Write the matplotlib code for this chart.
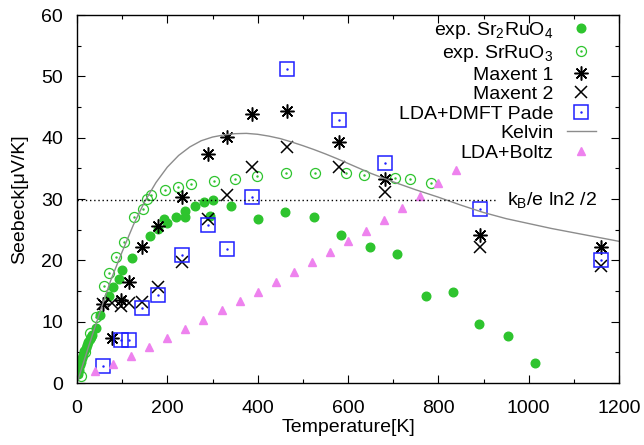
import matplotlib
matplotlib.use("Agg")
import matplotlib.pyplot as plt

plt.rcParams['font.family'] = ['Liberation Sans', 'DejaVu Sans']
plt.rcParams['mathtext.fontset'] = 'custom'
plt.rcParams['mathtext.rm'] = 'Liberation Sans'
plt.rcParams['mathtext.it'] = 'Liberation Sans:italic'
plt.rcParams['font.size'] = 14

# experimental Sr2RuO4
t_sr2 = [2, 4, 6, 8, 10, 13, 16, 19, 22, 25, 28, 31, 34, 41, 52, 70, 80, 92, 100,
         121, 162, 180, 193, 200, 220, 239, 239, 261, 281, 295, 302, 341, 401, 461,
         525, 584, 648, 708, 772, 832, 889, 954, 1013]
s_sr2 = [1.5, 2.2, 2.9, 3.5, 4.1, 4.6, 5.2, 5.7, 6.2, 6.7, 7.1, 7.5, 7.9, 9.0, 11.1,
         14.2, 15.6, 17.0, 18.4, 20.4, 23.9, 25.1, 26.8, 26.1, 27.0, 28.1, 27.1, 28.9,
         29.5, 27.2, 29.8, 28.8, 26.8, 27.9, 27.0, 24.1, 22.1, 21.0, 14.2, 14.9, 9.7,
         7.7, 3.2]

# experimental SrRuO3
t_sr3 = [8, 18, 29, 41, 60, 70, 87, 103, 127, 147, 155, 164, 195, 223, 252, 304, 349,
         398, 462, 526, 596, 635, 705, 737, 783]
s_sr3 = [1.2, 5.1, 8.1, 10.8, 15.8, 17.9, 20.5, 23.0, 27.0, 28.4, 30.0, 30.7, 31.5,
         32.0, 32.4, 33.0, 33.3, 33.7, 34.2, 34.3, 34.2, 33.9, 33.5, 33.2, 32.6]

# calculated temperatures (K)
t_calc = [58, 77, 97, 116, 145, 179, 232, 290, 332, 387, 464, 580, 683, 893, 1160]
s_maxent1 = [12.9, 7.4, 13.6, 16.5, 22.2, 25.6, 30.3, 37.4, 40.1, 43.9, 44.4, 39.3,
             33.3, 24.1, 22.2]
s_maxent2 = [12.8, 13.0, 12.5, 13.1, 13.2, 15.6, 19.8, 26.8, 30.7, 35.2, 38.5, 35.2,
             31.1, 22.1, 19.0]

t_pade = [58, 97, 116, 145, 179, 232, 290, 332, 387, 464, 580, 683, 893, 1160]
s_pade = [2.7, 7.0, 7.0, 12.2, 14.3, 20.8, 25.7, 21.9, 30.3, 51.2, 42.8, 35.9, 28.3, 20.0]

# Kelvin formula curve
t_kelvin = [0, 25, 50, 75, 100, 125, 150, 175, 200, 225, 250, 275, 300, 325, 350, 375,
            400, 425, 450, 475, 500, 525, 550, 575, 600, 625, 650, 675, 700, 750, 800,
            850, 900, 950, 1000, 1050, 1100, 1150, 1200]
s_kelvin = [0.0, 5.8, 11.4, 16.8, 21.4, 25.8, 29.6, 32.7, 35.2, 37.1, 38.5, 39.5, 40.1,
            40.45, 40.65, 40.7, 40.55, 40.25, 39.85, 39.3, 38.7, 38.05, 37.35, 36.6,
            35.8, 35.0, 34.2, 33.5, 32.8, 31.5, 30.3, 29.0, 27.8, 26.8, 26.0, 25.2,
            24.5, 23.8, 23.1]

# LDA + Boltzmann
t_boltz = [40, 80, 120, 160, 200, 240, 280, 320, 360, 400, 440, 480, 520, 560, 600,
           640, 680, 720, 760, 800, 840]
s_boltz = [1.9, 3.1, 4.4, 5.8, 7.3, 8.8, 10.3, 11.9, 13.4, 14.9, 16.5, 18.1, 19.7, 21.3,
           23.1, 24.8, 26.6, 28.6, 30.5, 32.6, 34.8]

s_ln2 = 29.87  # kB/e ln2 /2 in muV/K

green = '#2ec42e'
blue = '#1f1fff'
violet = '#ee82ee'

fig = plt.figure(figsize=(6.44, 4.45), dpi=100)
ax = fig.add_axes([77 / 644, 1 - 383 / 445, 542 / 644, 368 / 445])

h1, = ax.plot(t_sr2, s_sr2, 'o', color=green, ms=6.2, mec=green, ls='none')
h2, = ax.plot(t_sr3, s_sr3, 'o', mfc='none', mec=green, mew=0.9, ms=7.2, ls='none')
h2d, = ax.plot(t_sr3, s_sr3, '.', color=green, ms=1.5, ls='none')
h3, = ax.plot(t_calc, s_maxent1, marker=(8, 2, 0), color='black', ms=10, mew=1.1, ls='none')
h4, = ax.plot(t_calc, s_maxent2, 'x', color='black', ms=9, mew=1.1, ls='none')
h5, = ax.plot(t_pade, s_pade, 's', mfc='none', mec=blue, mew=1.1, ms=10, ls='none')
h5d, = ax.plot(t_pade, s_pade, '.', color=blue, ms=1.5, ls='none')
h6, = ax.plot(t_kelvin, s_kelvin, '-', color='#8c8c8c', lw=1.0)
h7, = ax.plot(t_boltz, s_boltz, '^', color=violet, ms=6.2, ls='none')

ax.hlines(s_ln2, 0, 930, colors='black', linestyles=(0, (1, 2)), lw=1.0)
ax.text(952, s_ln2, r'k$_\mathrm{B}$/e ln2 /2', va='center', ha='left', fontsize=14)

ax.set_xlim(0, 1200)
ax.set_ylim(0, 60)
ax.set_xticks(range(0, 1201, 200))
ax.set_yticks(range(0, 61, 10))
ax.set_xticks(range(0, 1201, 100), minor=True)
ax.set_yticks(range(0, 61, 5), minor=True)
ax.tick_params(which='both', direction='in', top=True, right=True, width=0.8)
ax.tick_params(which='major', length=6)
ax.tick_params(which='minor', length=3)
ax.tick_params(axis='x', which='major', pad=12)
ax.tick_params(axis='y', which='major', pad=10)
for sp in ax.spines.values():
    sp.set_linewidth(1.0)

ax.set_xlabel('Temperature[K]', va='center')
ax.xaxis.set_label_coords(0.5, (383 - 427.5) / 368)
ax.set_ylabel('Seebeck[μV/K]', va='center')
ax.yaxis.set_label_coords((20 - 77) / 542, 0.5)

leg = ax.legend([h1, (h2, h2d), h3, h4, (h5, h5d), h6, h7],
                [r'exp. Sr$_2$RuO$_4$', r'exp. SrRuO$_3$', 'Maxent 1', 'Maxent 2',
                 'LDA+DMFT Pade', 'Kelvin', 'LDA+Boltz'],
                markerfirst=False, frameon=False, loc='upper right',
                bbox_to_anchor=(596 / 644, 1 - 20 / 445), bbox_transform=fig.transFigure,
                borderpad=0, borderaxespad=0, handlelength=1.5, handletextpad=0.7,
                labelspacing=0.1, fontsize=14)

fig.savefig('out.png', dpi=100)
